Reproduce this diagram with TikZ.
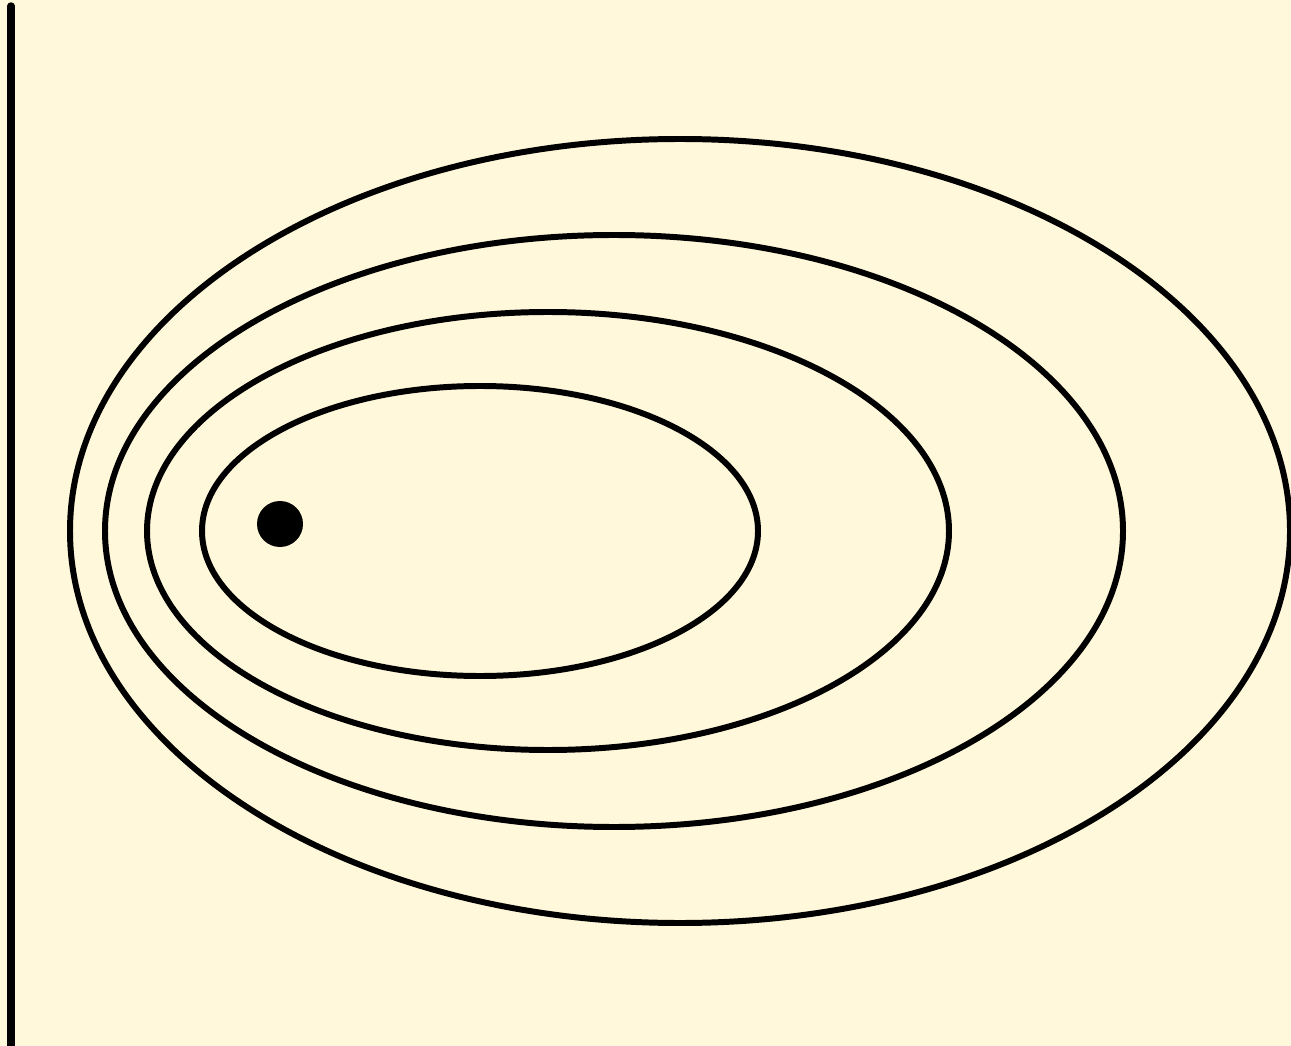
\documentclass[tikz,border=0pt]{standalone}
\usepackage{xcolor}
\usepackage{tikz}
\definecolor{paper}{HTML}{FFF8DA}

\begin{document}
\begin{tikzpicture}[x=0.01cm, y=-0.01cm,
    ring/.style={line width=1.7pt, black},
    wall/.style={line width=2.1pt, line cap=round, black}]
  % Background and bounding box
  \fill[paper] (0,0) rectangle (1291,1046);
  \useasboundingbox (0,0) rectangle (1291,1046);

  % Wall on the left
  \draw[wall] (11,6) -- (11,1046);

  % Nested ellipses (centre x / radius x / radius y)
  \foreach \cx/\rx/\ry in {680/610/392, 614/509/296, 548/401/219, 480/278/145} {
    \draw[ring] (\cx,531) ellipse [x radius=\rx, y radius=\ry];
  }

  % Point
  \fill[black] (280,524) circle [radius=23];
\end{tikzpicture}
\end{document}
